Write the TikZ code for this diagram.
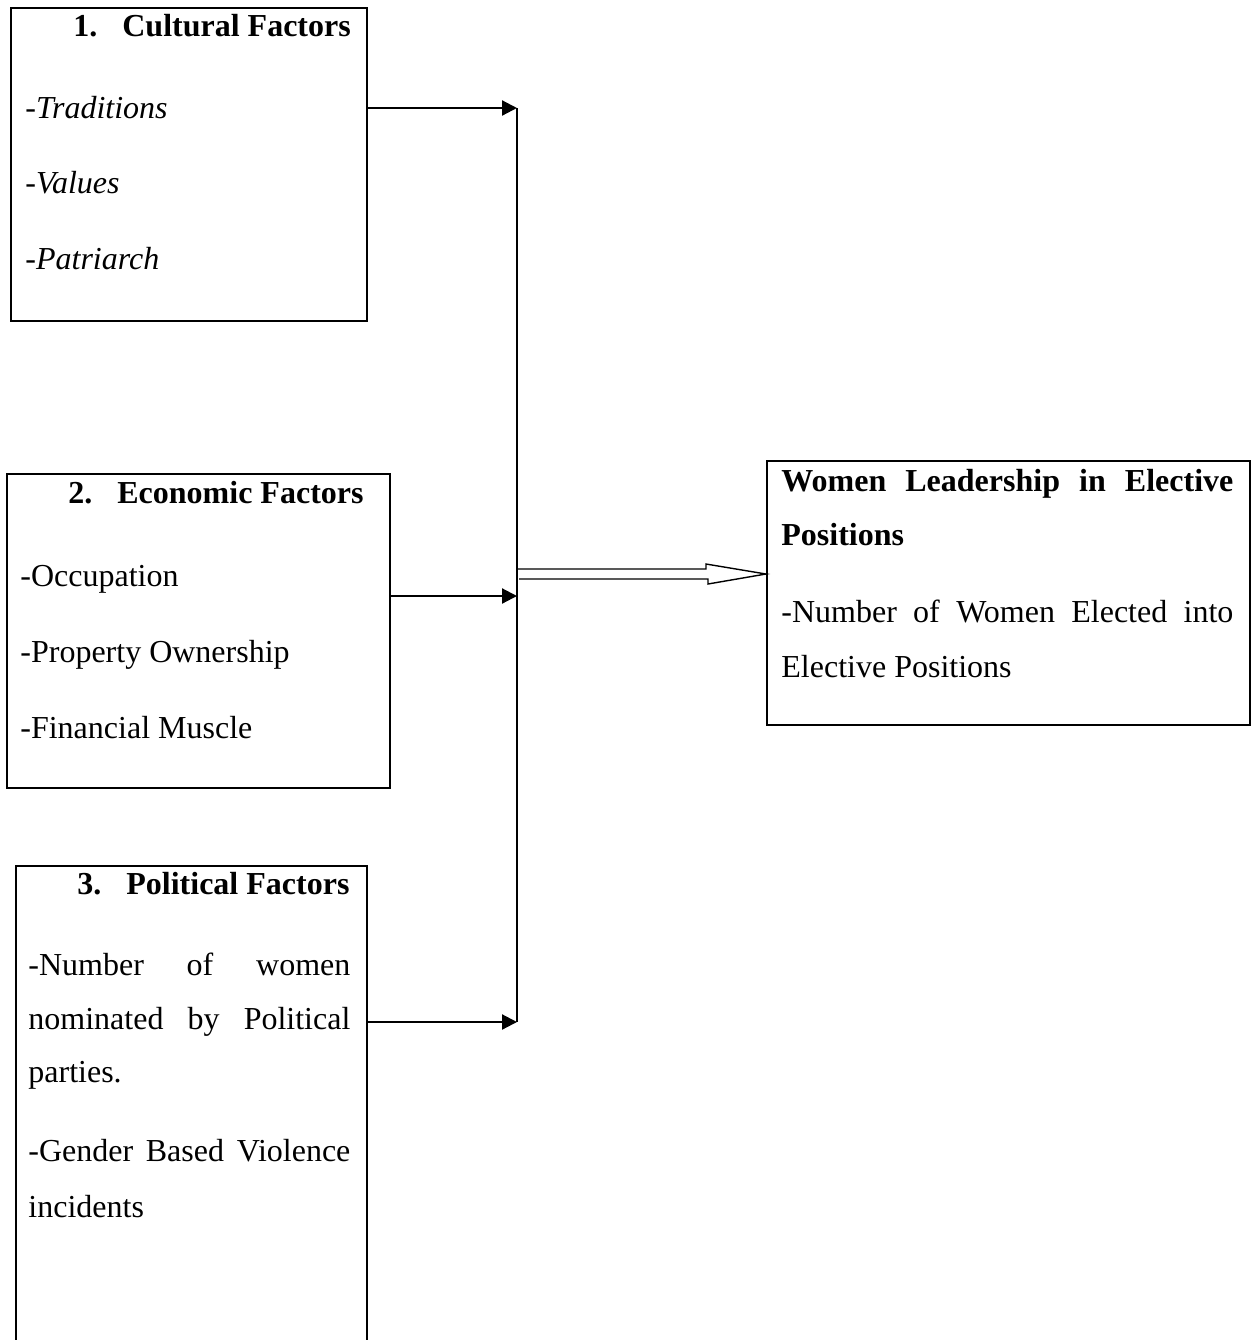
\documentclass[tikz,border=0pt]{standalone}
\usepackage{fontspec}
\setmainfont{Liberation Serif}
\usepackage{tikz}
\usetikzlibrary{arrows.meta,positioning,calc}

\newcommand{\bodyfont}{\fontsize{16}{19}\selectfont}

\tikzset{
  fbox/.style={draw, line width=1.1pt, rectangle, anchor=north west, inner sep=0pt},
  txt/.style={anchor=base west, inner sep=0pt, font=\bodyfont},
  ttl/.style={txt, font=\bodyfont\bfseries},
  itm/.style={txt, font=\bodyfont\itshape},
  conn/.style={line width=1.1pt, -{Triangle[length=7.5pt, width=7.5pt]}},
  dbl/.style={line width=0.7pt, line join=miter}
}

\begin{document}
\begin{tikzpicture}[x=0.5pt, y=-0.5pt]
  \clip (0,0) rectangle (1256,1340);

  % factor boxes
  \node[fbox, minimum width=178pt, minimum height=156.5pt] (cult) at (10,7) {};
  \node[fbox, minimum width=191.5pt, minimum height=157pt] (econ) at (6,473) {};
  \node[fbox, minimum width=175.5pt, minimum height=260pt] (pol) at (15,865) {};
  \node[fbox, minimum width=241.5pt, minimum height=132pt] (women) at (766,460) {};

  % box texts
  \node[ttl] (cultT) at (73,36) {1.\hspace{12.5pt}Cultural Factors};
  \foreach \txt/\yy [count=\i] in {{-Traditions}/118, {-Values}/193, {-Patriarch}/269}
    \node[itm] (cult\i) at (25,\yy) {\txt};

  \node[ttl] (econT) at (68,503) {2.\hspace{12.5pt}Economic Factors};
  \foreach \txt/\yy [count=\i] in {{-Occupation}/586, {-Property Ownership}/662, {-Financial Muscle}/738}
    \node[txt] (econ\i) at (20,\yy) {\txt};

  \node[ttl] (polT) at (77,894) {3.\hspace{12.5pt}Political Factors};
  \node[txt] (pol1) at (28,975) {\makebox[161pt][s]{-Number of women}};
  \node[txt] (pol2) at (28,1029) {\makebox[161pt][s]{nominated by Political}};
  \node[txt] (pol3) at (28,1082) {parties.};
  \node[txt] (pol4) at (28,1161) {\makebox[161pt][s]{-Gender Based Violence}};
  \node[txt] (pol5) at (28,1217) {incidents};

  \node[ttl] (womenT1) at (781,491) {\makebox[226pt][s]{Women Leadership in Elective}};
  \node[ttl] (womenT2) at (781,545) {Positions};
  \node[txt] (women1) at (781,622) {\makebox[226pt][s]{-Number of Women Elected into}};
  \node[txt] (women2) at (781,677) {Elective Positions};

  % connectors
  \coordinate (j1) at (517,108);
  \coordinate (j2) at (517,596);
  \coordinate (j3) at (517,1022);
  \draw[line width=1.1pt] (j1) -- (j3);
  \draw[conn] (cult.east |- j1) -- (j1);
  \draw[conn] (econ.east |- j2) -- (j2);
  \draw[conn] (pol.east |- j3) -- (j3);

  % hollow double arrow into the outcome box
  \coordinate (dtip) at (women.west |- 0,574);
  \draw[dbl] (j1 |- 0,569) -- ++(189,0) -- ++(0,-5) -- (dtip) -- ++(-58,10)
    -- ++(0,-5) -- ++(-189,0);
\end{tikzpicture}
\end{document}
